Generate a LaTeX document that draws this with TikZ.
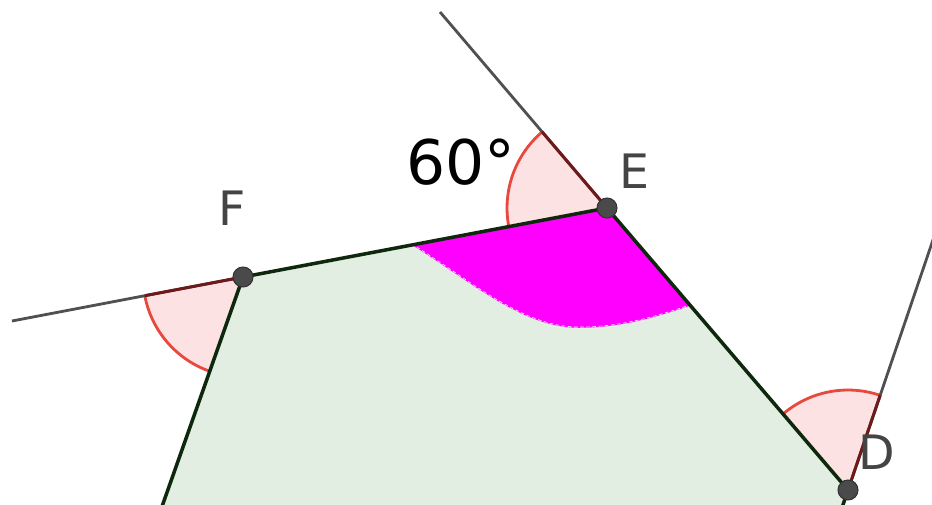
\documentclass[tikz,border=0pt]{standalone}
\usepackage{fontspec}
\setmainfont{DejaVu Sans}
\usetikzlibrary{calc}
\definecolor{polyfill}{RGB}{226,238,226}
\definecolor{polyedge}{RGB}{14,40,14}
\definecolor{rayline}{RGB}{80,80,80}
\definecolor{angfill}{RGB}{252,226,226}
\definecolor{angarc}{RGB}{232,72,62}
\definecolor{angrad}{RGB}{110,26,26}
\definecolor{ptfill}{RGB}{74,74,74}
\definecolor{lblgray}{RGB}{68,68,68}
\definecolor{magfill}{RGB}{255,0,255}
\tikzset{
  edge/.style={draw=polyedge,line width=2pt,line join=round},
  ray/.style={draw=rayline,line width=1.6pt},
  radline/.style={draw=angrad,line width=1.7pt},
  sectorfill/.style={fill=angfill},
  arcline/.style={draw=angarc,line width=1.6pt},
  pt/.style={circle,fill=ptfill,draw=black!80,line width=0.6pt,inner sep=0pt,minimum size=0.4cm},
  lbl/.style={text=lblgray,font=\fontsize{27}{30}\selectfont,inner sep=0pt},
}
\begin{document}
\begin{tikzpicture}[x=0.02cm,y=0.02cm]
\useasboundingbox (0,0) rectangle (932,504);
\clip (0,0) rectangle (932,504);
\coordinate (F) at (243,227);
\coordinate (E) at (607,296);
\coordinate (D) at (848,14);
\coordinate (G) at (147,-45);
\coordinate (C) at (823,-60);
\coordinate (L1) at (12,183);
\coordinate (L2) at (440,492);
\coordinate (L3) at (936,273);
\coordinate (M1) at ($(E)!0.533!(F)$);
\coordinate (M2) at ($(E)!0.344!(D)$);
% polygon fill
\fill[polyfill] (G) -- (F) -- (E) -- (D) -- (C) -- cycle;
% magenta region
\fill[magfill,draw=magfill,line width=0.8pt] (E) -- (M1) .. controls (470,224) and (520,179) .. (575,177) .. controls (620,176) and (660,189) .. (M2) -- cycle;
\draw[white,line width=0.35pt,dash pattern=on 2pt off 1.5pt] ($(E)!3pt!(M1)$) -- (M1) .. controls (470,224) and (520,179) .. (575,177) .. controls (620,176) and (660,189) .. (M2);
% angle sectors
\fill[sectorfill] (F) -- ++(190.8:2cm) arc[start angle=190.8,end angle=250.6,radius=2cm] -- cycle;
\fill[sectorfill] (E) -- ++(130.4:2cm) arc[start angle=130.4,end angle=190.7,radius=2cm] -- cycle;
\fill[sectorfill] (D) -- ++(71.2:2cm) arc[start angle=71.2,end angle=130.5,radius=2cm] -- cycle;
\draw[arcline] (F) ++(190.8:2cm) arc[start angle=190.8,end angle=250.6,radius=2cm];
\draw[arcline] (E) ++(130.4:2cm) arc[start angle=130.4,end angle=190.7,radius=2cm];
\draw[arcline] (D) ++(71.2:2cm) arc[start angle=71.2,end angle=130.5,radius=2cm];
% extension rays
\draw[ray] (F) -- (L1);
\draw[ray] (E) -- (L2);
\draw[ray] (D) -- (L3);
\draw[radline] (F) -- ($(F)!2cm!(L1)$);
\draw[radline] (E) -- ($(E)!2cm!(L2)$);
\draw[radline] (D) -- ($(D)!2cm!(L3)$);
% polygon edges
\draw[edge] (G) -- (F) -- (E) -- (D) -- (C);
% points
\node[pt] (pF) at (F) {};
\node[pt] (pE) at (E) {};
\node[pt] (pD) at (D) {};
% labels
\node[lbl] (lF) at (232,296) {F};
\node[lbl] (lE) at (634,333) {E};
\node[lbl] (lD) at (877,52) {D};
\node[inner sep=0pt,font=\fontsize{35}{38}\selectfont] (ang) at (461,342) {60°};
\end{tikzpicture}
\end{document}
